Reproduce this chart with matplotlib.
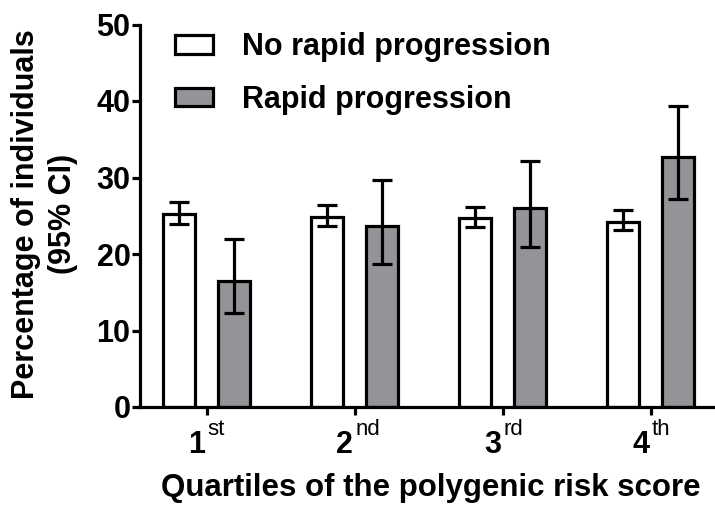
import matplotlib.pyplot as plt
import numpy as np

plt.rcParams['font.family'] = ['Liberation Sans', 'DejaVu Sans']

# Data
quartiles = ['1', '2', '3', '4']
suffixes = ['st', 'nd', 'rd', 'th']
no_rapid = [25.2, 24.9, 24.7, 24.2]
no_rapid_lo = [23.9, 23.7, 23.5, 23.2]
no_rapid_hi = [26.8, 26.4, 26.2, 25.8]
rapid = [16.45, 23.6, 26.0, 32.7]
rapid_lo = [12.25, 18.7, 20.9, 27.2]
rapid_hi = [21.9, 29.65, 32.1, 39.3]

fig = plt.figure(figsize=(7.15, 5.09), dpi=100)
ax = fig.add_axes([140 / 715, 102 / 509, 575 / 715, 382.5 / 509])

x = np.arange(1, len(quartiles) + 1)
w = 0.216
off = 0.187
lw = 2.3

def errs(v, lo, hi):
    return [np.array(v) - np.array(lo), np.array(hi) - np.array(v)]

ax.bar(x - off, no_rapid, w, color='white', edgecolor='black', linewidth=lw,
       label='No rapid progression', zorder=2)
ax.bar(x + off, rapid, w, color='#939398', edgecolor='black', linewidth=lw,
       label='Rapid progression', zorder=2)
ax.errorbar(x - off, no_rapid, yerr=errs(no_rapid, no_rapid_lo, no_rapid_hi),
            fmt='none', ecolor='black', elinewidth=lw, capsize=7, capthick=lw, zorder=3)
ax.errorbar(x + off, rapid, yerr=errs(rapid, rapid_lo, rapid_hi),
            fmt='none', ecolor='black', elinewidth=lw, capsize=7, capthick=lw, zorder=3)

ax.set_ylim(0, 50)
ax.set_xlim(0.549, 4.434)
ax.set_yticks([0, 10, 20, 30, 40, 50])
ax.set_xticks(x)
ax.set_xticklabels([])
ax.tick_params(axis='both', width=lw, length=5.8)
ax.tick_params(axis='y', labelsize=22, pad=1)
for lab in ax.get_yticklabels():
    lab.set_fontweight('bold')

# ordinal tick labels: bold digit + plain superscript
for xi, q, s in zip(x, quartiles, suffixes):
    ax.annotate(q, xy=(xi, 0), xycoords=('data', 'axes fraction'),
                xytext=(-1, -33), textcoords='offset points',
                ha='right', va='baseline', fontsize=22, fontweight='bold')
    ax.annotate(s, xy=(xi, 0), xycoords=('data', 'axes fraction'),
                xytext=(0.5, -20.5), textcoords='offset points',
                ha='left', va='baseline', fontsize=16)

ax.spines['top'].set_visible(False)
ax.spines['right'].set_visible(False)
ax.spines['left'].set_linewidth(lw)
ax.spines['bottom'].set_linewidth(lw)

ax.set_ylabel('Percentage of individuals\n(95% CI)', fontsize=22, fontweight='bold',
              linespacing=1.3)
ax.yaxis.set_label_coords(-0.108, 0.505)
ax.set_xlabel('Quartiles of the polygenic risk score', fontsize=22.5, fontweight='bold')
ax.xaxis.set_label_coords(0.505, -0.1725)

leg = ax.legend(loc='upper left', bbox_to_anchor=(0.061, 0.98), frameon=False,
                fontsize=22, handlelength=1.25, handleheight=0.55, labelspacing=0.75,
                handletextpad=0.95, borderpad=0, borderaxespad=0)
for t in leg.get_texts():
    t.set_fontweight('bold')

fig.savefig('out.png', dpi=100)
